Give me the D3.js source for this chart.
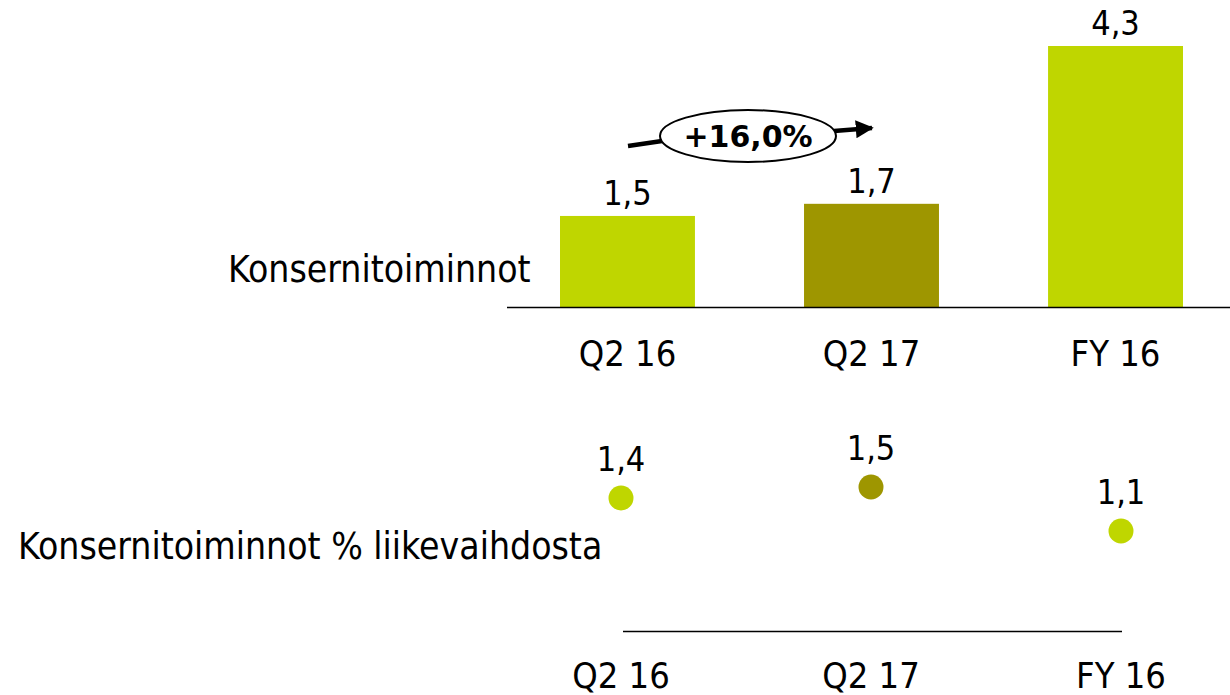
<!DOCTYPE html>
<html>
<head>
<meta charset="utf-8">
<script src="https://cdn.jsdelivr.net/npm/d3@7"></script>
<style>
  body { margin: 0; background: #fff; }
  svg text { font-family: "DejaVu Sans Condensed", "DejaVu Sans", sans-serif; fill: #000; }
</style>
</head>
<body>
<div id="chart"></div>
<script>
// data
var periods = ["Q2 16", "Q2 17", "FY 16"];
var costValues = [1.5, 1.7, 4.3];           // Konsernitoiminnot
var pctValues = [1.4, 1.5, 1.1];            // % liikevaihdosta
var growthLabel = "+16,0%";
var fmt = function(v) { return String(v.toFixed(1)).replace(".", ","); };

var svgWidth = 1230, svgHeight = 695;
var lightGreen = "#bfd600", darkOlive = "#9e9600";
var barColors = [lightGreen, darkOlive, lightGreen];

var svg = d3.select("#chart").append("svg")
  .attr("width", svgWidth)
  .attr("height", svgHeight);

// ---- top: bars
var x = d3.scaleBand().domain(periods).range([560, 1183]).paddingInner(0.447).paddingOuter(0);
var y = d3.scaleLinear().domain([0, 4.3]).range([307, 46]);

svg.selectAll("rect.bar")
  .data(costValues)
  .enter().append("rect")
  .attr("class", "bar")
  .attr("x", (d, i) => x(periods[i]))
  .attr("y", d => y(d))
  .attr("width", x.bandwidth())
  .attr("height", d => y(0) - y(d))
  .attr("fill", (d, i) => barColors[i]);

svg.selectAll("text.barval")
  .data(costValues)
  .enter().append("text")
  .attr("class", "barval")
  .attr("x", (d, i) => x(periods[i]) + x.bandwidth() / 2)
  .attr("y", d => y(d) - 11)
  .attr("text-anchor", "middle")
  .style("font-size", "34px")
  .text(fmt);

svg.append("line")
  .attr("x1", 507).attr("x2", 1230)
  .attr("y1", y(0) + 0.5).attr("y2", y(0) + 0.5)
  .attr("stroke", "#000").attr("stroke-width", 1.5);

svg.selectAll("text.xlab")
  .data(periods)
  .enter().append("text")
  .attr("class", "xlab")
  .attr("x", d => x(d) + x.bandwidth() / 2)
  .attr("y", 366)
  .attr("text-anchor", "middle")
  .style("font-size", "36px")
  .text(d => d);

svg.append("text")
  .attr("x", 228).attr("y", 282)
  .style("font-size", "37px")
  .text("Konsernitoiminnot");

// growth arrow
var defs = svg.append("defs");
defs.append("marker")
  .attr("id", "arrow")
  .attr("viewBox", "0 0 10 10")
  .attr("refX", 9).attr("refY", 5)
  .attr("markerWidth", 4).attr("markerHeight", 4)
  .attr("orient", "auto")
  .append("path").attr("d", "M0,0L10,5L0,10z").attr("fill", "#000");

svg.append("line")
  .attr("x1", 628).attr("y1", 146).attr("x2", 662).attr("y2", 141)
  .attr("stroke", "#000").attr("stroke-width", 4.5);
svg.append("line")
  .attr("x1", 834).attr("y1", 131).attr("x2", 872).attr("y2", 128)
  .attr("stroke", "#000").attr("stroke-width", 4.5)
  .attr("marker-end", "url(#arrow)");
svg.append("ellipse")
  .attr("cx", 748).attr("cy", 136).attr("rx", 88).attr("ry", 26)
  .attr("fill", "#fff").attr("stroke", "#000").attr("stroke-width", 2);
svg.append("text")
  .attr("x", 748).attr("y", 147)
  .attr("text-anchor", "middle")
  .style("font-family", "'DejaVu Sans', sans-serif")
  .style("font-size", "30px").style("font-weight", "bold")
  .text(growthLabel);

// ---- bottom: dots
var xp = d3.scalePoint().domain(periods).range([621, 1121]);
var yp = d3.scaleLinear().domain([0, 1.5]).range([652, 487]);
var dotColors = [lightGreen, darkOlive, lightGreen];

svg.selectAll("circle.dot")
  .data(pctValues)
  .enter().append("circle")
  .attr("class", "dot")
  .attr("cx", (d, i) => xp(periods[i]))
  .attr("cy", d => yp(d))
  .attr("r", 12.5)
  .attr("fill", (d, i) => dotColors[i]);

svg.selectAll("text.dotval")
  .data(pctValues)
  .enter().append("text")
  .attr("class", "dotval")
  .attr("x", (d, i) => xp(periods[i]))
  .attr("y", d => yp(d) - 27)
  .attr("text-anchor", "middle")
  .style("font-size", "34px")
  .text(fmt);

svg.append("line")
  .attr("x1", 623).attr("x2", 1122)
  .attr("y1", 631.5).attr("y2", 631.5)
  .attr("stroke", "#000").attr("stroke-width", 1.5);

svg.selectAll("text.xlab2")
  .data(periods)
  .enter().append("text")
  .attr("class", "xlab2")
  .attr("x", d => xp(d))
  .attr("y", 688)
  .attr("text-anchor", "middle")
  .style("font-size", "36px")
  .text(d => d);

svg.append("text")
  .attr("x", 18).attr("y", 559)
  .style("font-size", "37px")
  .text("Konsernitoiminnot % liikevaihdosta");
</script>
</body>
</html>
